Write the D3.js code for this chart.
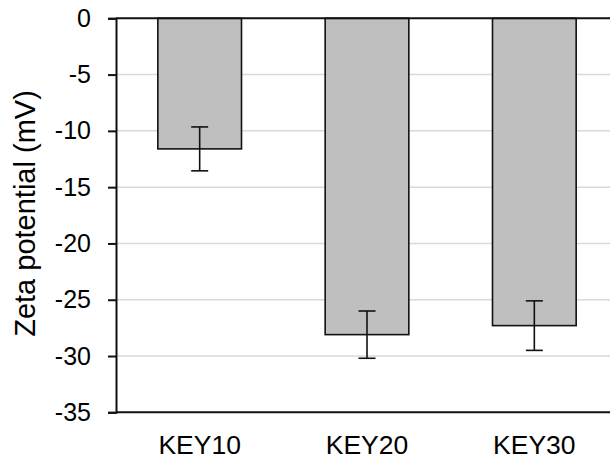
<!DOCTYPE html>
<html><head><meta charset="utf-8">
<script src="https://cdn.jsdelivr.net/npm/d3@7"></script>
<style>body{margin:0;background:#fff}svg{display:block;font-family:"Liberation Sans",Arial,sans-serif}</style>
</head><body>
<svg id="c" width="610" height="463"></svg>
<script>
const categories = ["KEY10", "KEY20", "KEY30"];
const values = [-11.6, -28.1, -27.3];
const errors = [1.95, 2.1, 2.2];
const yTicks = [0, -5, -10, -15, -20, -25, -30, -35];
const yTitle = "Zeta potential (mV)";

(function () {
const svg = d3.select("#c");
const mLeft = 116, mTop = 18.3, mBottom = 412.3, mRight = 618;
const x = d3.scaleBand().domain(categories).range([mLeft, mRight]).paddingInner(0.5).paddingOuter(0.25);
const y = d3.scaleLinear().domain([0, -35]).range([mTop, mBottom]);

// gridlines
svg.append("g").selectAll("line").data(yTicks.filter(d => d !== 0 && d !== -35)).join("line")
  .attr("x1", mLeft).attr("x2", 610).attr("y1", d => y(d)).attr("y2", d => y(d))
  .attr("stroke", "#d9d9d9").attr("stroke-width", 1.5);

// bars
svg.append("g").selectAll("rect").data(categories).join("rect")
  .attr("x", d => x(d)).attr("width", x.bandwidth())
  .attr("y", y(0)).attr("height", (d, i) => y(values[i]) - y(0))
  .attr("fill", "#bfbfbf").attr("stroke", "#111").attr("stroke-width", 1.6);

// error bars
const eg = svg.append("g").attr("stroke", "#111").attr("stroke-width", 1.6);
categories.forEach((c, i) => {
  const cx = x(c) + x.bandwidth() / 2;
  const y1 = y(values[i] + errors[i]), y2 = y(values[i] - errors[i]);
  eg.append("line").attr("x1", cx).attr("x2", cx).attr("y1", y1).attr("y2", y2);
  eg.append("line").attr("x1", cx - 8.5).attr("x2", cx + 8.5).attr("y1", y1).attr("y2", y1);
  eg.append("line").attr("x1", cx - 8.5).attr("x2", cx + 8.5).attr("y1", y2).attr("y2", y2);
});

// axes lines
svg.append("line").attr("x1", mLeft).attr("x2", 610).attr("y1", y(0)).attr("y2", y(0)).attr("stroke", "#111").attr("stroke-width", 2);
svg.append("line").attr("x1", mLeft).attr("x2", 610).attr("y1", y(-35)).attr("y2", y(-35)).attr("stroke", "#111").attr("stroke-width", 2);

const ya = d3.axisLeft(y).tickValues(yTicks).tickSize(8).tickPadding(17).tickFormat(d => d3.format("d")(d).replace("−", "-"));
const yg = svg.append("g").attr("transform", `translate(${mLeft},0)`).call(ya);
yg.select(".domain").attr("stroke", "#111").attr("stroke-width", 2);
yg.selectAll(".tick line").attr("stroke", "#111").attr("stroke-width", 2);
yg.selectAll(".tick text").attr("font-size", 25).attr("fill", "#000").attr("font-family", "Liberation Sans, Arial, sans-serif");

const xa = d3.axisBottom(x).tickSize(0).tickPadding(23);
const xg = svg.append("g").attr("transform", `translate(0,${mBottom})`).call(xa);
xg.select(".domain").remove();
xg.selectAll(".tick text").attr("font-size", 26.5).attr("fill", "#000").attr("font-family", "Liberation Sans, Arial, sans-serif");

svg.append("text").attr("transform", `translate(35,213.5) rotate(-90)`)
  .attr("text-anchor", "middle").attr("font-size", 29).attr("fill", "#000").text(yTitle);
})();
</script>
</body></html>
